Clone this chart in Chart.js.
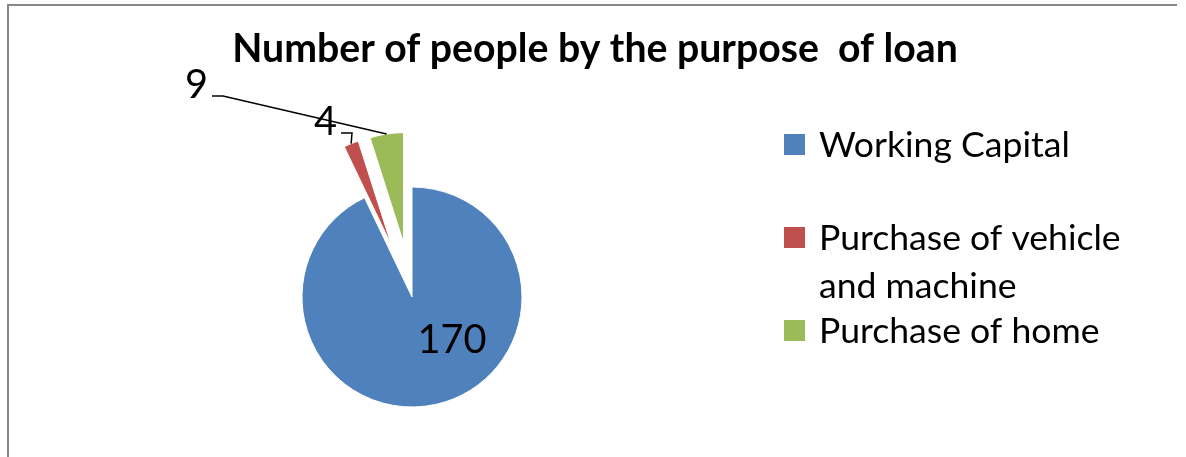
<!DOCTYPE html>
<html>
<head>
<meta charset="utf-8">
<script src="https://cdn.jsdelivr.net/npm/chart.js@4.4.0/dist/chart.umd.min.js"></script>
<style>
  html, body { margin: 0; padding: 0; background: #fff; }
  #wrap { width: 1186px; height: 457px; }
</style>
</head>
<body>
<div id="wrap"><canvas id="loanChart" width="1186" height="457"></canvas></div>
<script>
// Chart data
const chartTitle = "Number of people by the purpose  of loan";
const categories = ["Working Capital", "Purchase of vehicle and machine", "Purchase of home"];
const peopleCounts = [170, 4, 9];
const sliceColors = ["#4F81BD", "#C0504D", "#9BBB59"];

// Layout (pixels)
const pieRadius = 110;
const explodeDistances = [0, 55, 55];
const fontFamily = "Lato, 'Open Sans', sans-serif";

// Pick a font size so the text has the wanted width
function fitFont(ctx, text, weight, width) {
    ctx.font = weight + " 40px " + fontFamily;
    const size = 40 * width / ctx.measureText(text).width;
    return weight + " " + size.toFixed(1) + "px " + fontFamily;
}

// Move the exploded slices out along their middle angle
const explodePlugin = {
    id: "explode",
    beforeDatasetsDraw(chart) {
        const area = chart.chartArea;
        const cx = (area.left + area.right) / 2;
        const cy = (area.top + area.bottom) / 2;
        chart.getDatasetMeta(0).data.forEach((arc, i) => {
            const mid = (arc.startAngle + arc.endAngle) / 2;
            arc.x = cx + Math.cos(mid) * explodeDistances[i];
            arc.y = cy + Math.sin(mid) * explodeDistances[i];
        });
    }
};

// Frame, title, legend and value labels
const decorPlugin = {
    id: "decor",
    afterDraw(chart) {
        const ctx = chart.ctx;
        const area = chart.chartArea;
        const cx = (area.left + area.right) / 2;
        const cy = (area.top + area.bottom) / 2;
        const arcs = chart.getDatasetMeta(0).data;
        ctx.save();

        // frame (left and top edges only are visible)
        ctx.strokeStyle = "#878787";
        ctx.lineWidth = 2;
        ctx.beginPath();
        ctx.moveTo(8, 457);
        ctx.lineTo(8, 5);
        ctx.lineTo(1177, 5);
        ctx.stroke();

        // title
        ctx.fillStyle = "#000";
        ctx.font = fitFont(ctx, chartTitle, "bold", 725);
        ctx.textAlign = "center";
        ctx.textBaseline = "alphabetic";
        ctx.fillText(chartTitle, 595, 62);

        // legend
        ctx.font = fitFont(ctx, "Working Capital", "normal", 251);
        ctx.textAlign = "left";
        const rowTops = [157, 250, 343];
        categories.forEach((name, i) => {
            ctx.fillStyle = sliceColors[i];
            ctx.fillRect(784, rowTops[i] - 23, 21, 21);
            ctx.fillStyle = "#000";
            // wrap long names
            const words = name.split(" ");
            let line = "";
            let y = rowTops[i];
            words.forEach(w => {
                const test = line ? line + " " + w : w;
                if (ctx.measureText(test).width > 330 && line) {
                    ctx.fillText(line, 819, y);
                    line = w;
                    y += 48;
                } else {
                    line = test;
                }
            });
            ctx.fillText(line, 819, y);
        });

        // value labels
        ctx.font = fitFont(ctx, "170", "normal", 69);
        ctx.fillStyle = "#000";
        ctx.textAlign = "center";
        ctx.fillText(String(peopleCounts[0]), cx + 40, cy + 56);

        // outside labels with leader lines: elbow relative to pie centre
        const elbows = [null, [-60, -164], [-189, -201]];
        ctx.strokeStyle = "#000";
        ctx.lineWidth = 1.5;
        ctx.textAlign = "right";
        [1, 2].forEach(i => {
            const arc = arcs[i];
            const mid = (arc.startAngle + arc.endAngle) / 2;
            const ax = arc.x + Math.cos(mid) * arc.outerRadius;
            const ay = arc.y + Math.sin(mid) * arc.outerRadius;
            const ex = cx + elbows[i][0];
            const ey = cy + elbows[i][1];
            ctx.beginPath();
            ctx.moveTo(ax, ay);
            ctx.lineTo(ex, ey);
            ctx.lineTo(ex - 11, ey);
            ctx.stroke();
            ctx.fillText(String(peopleCounts[i]), ex - 15, ey + 2);
        });

        ctx.restore();
    }
};

const ctx = document.getElementById("loanChart").getContext("2d");
const loanChart = new Chart(ctx, {
    type: "pie",
    data: {
        labels: categories,
        datasets: [
            {
                data: peopleCounts,
                backgroundColor: sliceColors,
                borderColor: "#ffffff",
                borderWidth: 1,
                radius: pieRadius,
                hoverOffset: 0,
            },
        ],
    },
    options: {
        responsive: false,
        animation: false,
        events: [],
        layout: {
            // puts the pie centre at (412, 297)
            padding: { left: 0, right: 362, top: 137, bottom: 0 },
        },
        plugins: {
            legend: { display: false },
            title: { display: false },
            tooltip: { enabled: false },
        },
    },
    plugins: [explodePlugin, decorPlugin],
});
</script>
</body>
</html>
